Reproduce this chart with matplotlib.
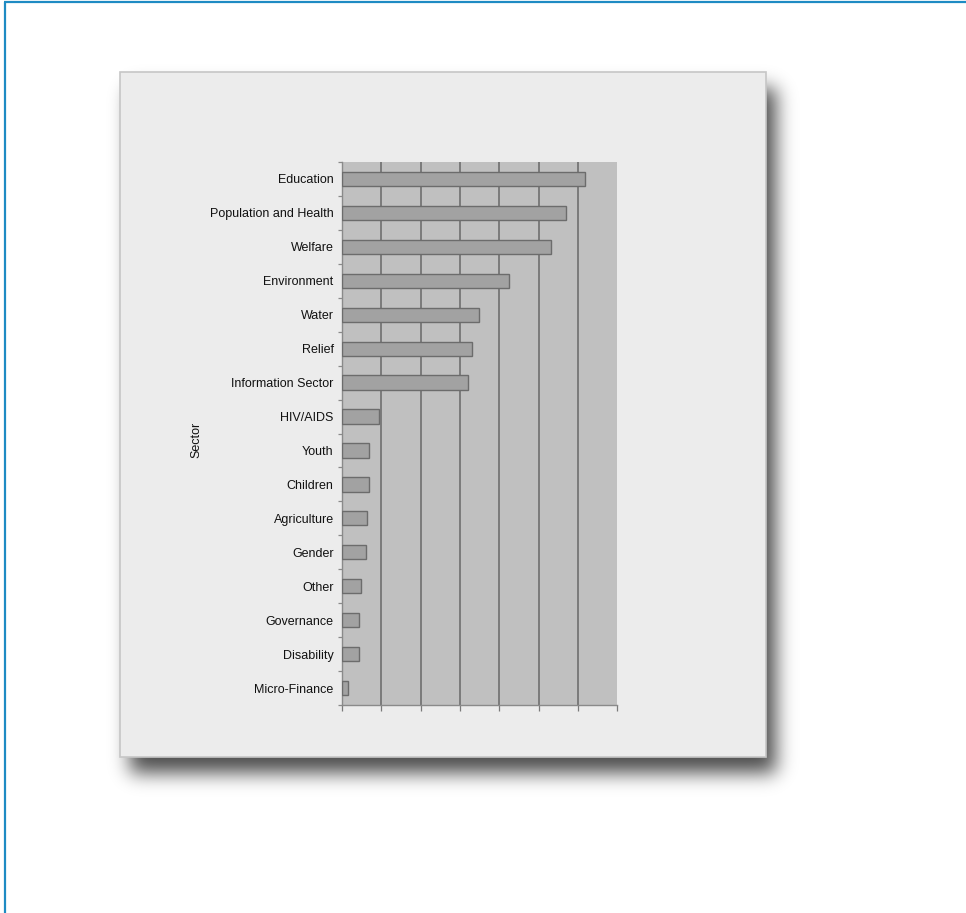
import math

import matplotlib

matplotlib.use("Agg")
import matplotlib.pyplot as plt
import numpy as np
from matplotlib.patches import Rectangle

plt.rcParams["font.family"] = ["Liberation Sans", "DejaVu Sans"]

# share of organisations per sector (%), top to bottom
sectors = [
    "Education", "Population and Health", "Welfare", "Environment", "Water",
    "Relief", "Information Sector", "HIV/AIDS", "Youth", "Children",
    "Agriculture", "Gender", "Other", "Governance", "Disability", "Micro-Finance",
]
shares = [30.9, 28.4, 26.5, 21.2, 17.4, 16.5, 16.0, 4.7, 3.4, 3.4, 3.2, 3.0, 2.4, 2.1, 2.1, 0.8]
x_ticks = [0, 5, 10, 15, 20, 25, 30, 35]

W, H = 966, 913
fig = plt.figure(figsize=(W / 100, H / 100), dpi=100, facecolor="white")

# page layer in pixel coordinates: drop shadow, chart panel, blue frame
bg = fig.add_axes([0, 0, 1, 1], zorder=0)
bg.set_xlim(0, W)
bg.set_ylim(H, 0)
bg.axis("off")

px0, px1, py0, py1 = 120, 766, 72, 757
sx, sy, sigma = 10, 16, 9.5
cdf = np.vectorize(lambda v: 0.5 * (1.0 + math.erf(v / math.sqrt(2.0))))
xs = np.arange(W) + 0.5
ys = np.arange(H) + 0.5
fx = cdf((xs - px0 - sx) / sigma) - cdf((xs - px1 - sx) / sigma)
fy = cdf((ys - py0 - sy) / sigma) - cdf((ys - py1 - sy) / sigma)
shadow = np.zeros((H, W, 4))
shadow[..., 3] = 0.7 * np.outer(fy, fx)
bg.imshow(shadow, extent=(0, W, H, 0), interpolation="bilinear", zorder=1)

bg.add_patch(Rectangle((px0, py0), px1 - px0, py1 - py0, facecolor="#ececec",
                       edgecolor="#c6c6c6", linewidth=1.2, zorder=2))
bg.plot([4, W], [2.5, 2.5], color="#1e8bc3", linewidth=1.6, zorder=3, solid_capstyle="butt")
bg.plot([4.5, 4.5], [2.5, H], color="#1e8bc3", linewidth=1.6, zorder=3, solid_capstyle="butt")

# bar chart
ax = fig.add_axes([342 / W, 1 - 705 / H, 275.5 / W, 543 / H], zorder=2)
ax.set_facecolor("#c0c0c0")
y = np.arange(len(sectors))
ax.barh(y, shares, height=0.42, color="#a2a2a2", edgecolor="#6c6c6c", linewidth=1.0, zorder=3)
ax.set_xlim(x_ticks[0], x_ticks[-1])
ax.set_ylim(len(sectors) - 0.5, -0.5)

ax.set_xticks(x_ticks)
ax.set_xticklabels([])
ax.tick_params(axis="x", length=4, width=0.9, color="#7a7a7a", direction="out")
for xv in x_ticks[1:-1]:
    ax.axvline(xv, color="#757575", linewidth=1.3, zorder=2)

ax.set_yticks(y)
ax.set_yticklabels(sectors, fontsize=9, color="#111111")
ax.set_yticks(np.arange(len(sectors) + 1) - 0.5, minor=True)
ax.tick_params(axis="y", which="major", length=0, pad=6)
ax.tick_params(axis="y", which="minor", length=3, width=0.9, color="#8a8a8a", direction="out")

for side in ("top", "right"):
    ax.spines[side].set_visible(False)
for side in ("left", "bottom"):
    ax.spines[side].set_color("#8a8a8a")
    ax.spines[side].set_linewidth(1.0)

ax.set_ylabel("Sector", fontsize=9, color="#111111", va="center")
ax.yaxis.set_label_coords(-0.53, 0.488)

fig.savefig("out.png", dpi=100, facecolor="white")
plt.close(fig)
